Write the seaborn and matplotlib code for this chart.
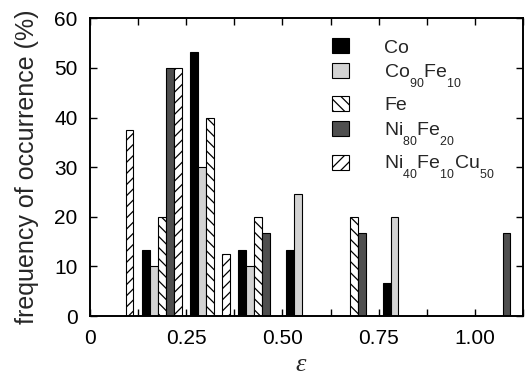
import numpy as np
import pandas as pd
import matplotlib
matplotlib.use("Agg")
import matplotlib.pyplot as plt
import matplotlib._mathtext as _mt
import seaborn as sns

# ---- data ----
eps_bins = [0.0, 0.125, 0.25, 0.375, 0.5, 0.625, 0.75, 0.875, 1.0]
series_names = ["Co", "Co$_{90}$Fe$_{10}$", "Fe", "Ni$_{80}$Fe$_{20}$",
                "Ni$_{40}$Fe$_{10}$Cu$_{50}$"]
co = [0, 13.3, 53.3, 13.3, 13.3, 0, 6.7, 0, 0]
co90fe10 = [0, 10.0, 30.0, 10.0, 24.5, 0, 20.0, 0, 0]
fe = [0, 20.0, 40.0, 20.0, 0, 20.0, 0, 0, 0]
ni80fe20 = [0, 50.0, 0, 16.7, 0, 16.7, 0, 0, 16.7]
ni40fe10cu50 = [37.5, 50.0, 12.5, 0, 0, 0, 0, 0, 0]
x_ticks = [0, 0.125, 0.25, 0.375, 0.5, 0.625, 0.75, 0.875, 1.0, 1.125]
x_tick_labels = ["0", "", "0.25", "", "0.50", "", "0.75", "", "1.00", ""]
y_ticks = [0, 10, 20, 30, 40, 50, 60]
y_tick_labels = ["0", "10", "20", "30", "40", "50", "60"]

series_values = [co, co90fe10, fe, ni80fe20, ni40fe10cu50]

# ---- style ----
sns.set_theme(style="ticks")
plt.rcParams["font.family"] = ["Liberation Sans", "DejaVu Sans"]
plt.rcParams["mathtext.fontset"] = "custom"
plt.rcParams["mathtext.rm"] = "Liberation Sans"
plt.rcParams["mathtext.it"] = "Liberation Sans:italic"
plt.rcParams["mathtext.bf"] = "Liberation Sans:bold"
plt.rcParams["hatch.linewidth"] = 0.9
plt.rcParams["hatch.color"] = "black"
# deeper, slightly larger subscripts as in the reference typesetting
_mt.SHRINK_FACTOR = 0.64
_mt.FontConstantsBase.sub1 = 1.05

styles = [
    dict(color="#000000"),
    dict(color="#d3d3d3"),
    dict(color="#ffffff", hatch="\\\\\\"),
    dict(color="#4f4f4f"),
    dict(color="#ffffff", hatch="///"),
]

W, H = 531, 377
fig = plt.figure(figsize=(W / 100, H / 100), dpi=100)
ax_l, ax_r, ax_t, ax_b = 90, 523, 18.3, 316
ax = fig.add_axes([ax_l / W, 1 - ax_b / H, (ax_r - ax_l) / W, (ax_b - ax_t) / H])

bar_w = 0.0205
for i, (name, vals) in enumerate(zip(series_names, series_values)):
    df = pd.DataFrame({"eps": eps_bins, "freq": vals})
    df = df[df["freq"] > 0].copy()
    df["pos"] = df["eps"] + bar_w * (i + 1)
    u = np.unique(df["pos"].values)
    native = np.min(np.diff(u)) if len(u) > 1 else 1.0
    st = styles[i]
    kw = {}
    if "hatch" in st:
        kw["hatch"] = st["hatch"]
    sns.barplot(data=df, x="pos", y="freq", native_scale=True,
                width=bar_w / native, color=st["color"], saturation=1,
                edgecolor="black", linewidth=0.8, errorbar=None,
                label=name, ax=ax, **kw)

ax.set_xlim(0, 1.125)
ax.set_ylim(0, 60)
ax.set_xticks(x_ticks, x_tick_labels)
ax.set_yticks(y_ticks, y_tick_labels)
ax.tick_params(axis="both", which="both", direction="in", top=True, right=True,
               length=5, width=1.0, labelsize=15, pad=9, colors="black")
for s in ax.spines.values():
    s.set_visible(True)
    s.set_linewidth(1.4)
    s.set_color("black")

ax.set_xlabel("ε", fontsize=19, fontstyle="italic",
              family=["Liberation Serif", "DejaVu Serif"])
ax.xaxis.set_label_coords(0.487, -0.126)
ax.set_ylabel("frequency of occurrence (%)", fontsize=18)
ax.yaxis.set_label_coords(-0.118, 0.5)

handles, labels = ax.get_legend_handles_labels()
leg = ax.legend(handles, labels, loc="upper left", bbox_to_anchor=(0.558, 0.933),
                frameon=False, fontsize=14, handlelength=0.9, handleheight=0.82,
                handletextpad=1.8, labelspacing=0.31, borderpad=0, borderaxespad=0)

fig.savefig("out.png", dpi=100)
